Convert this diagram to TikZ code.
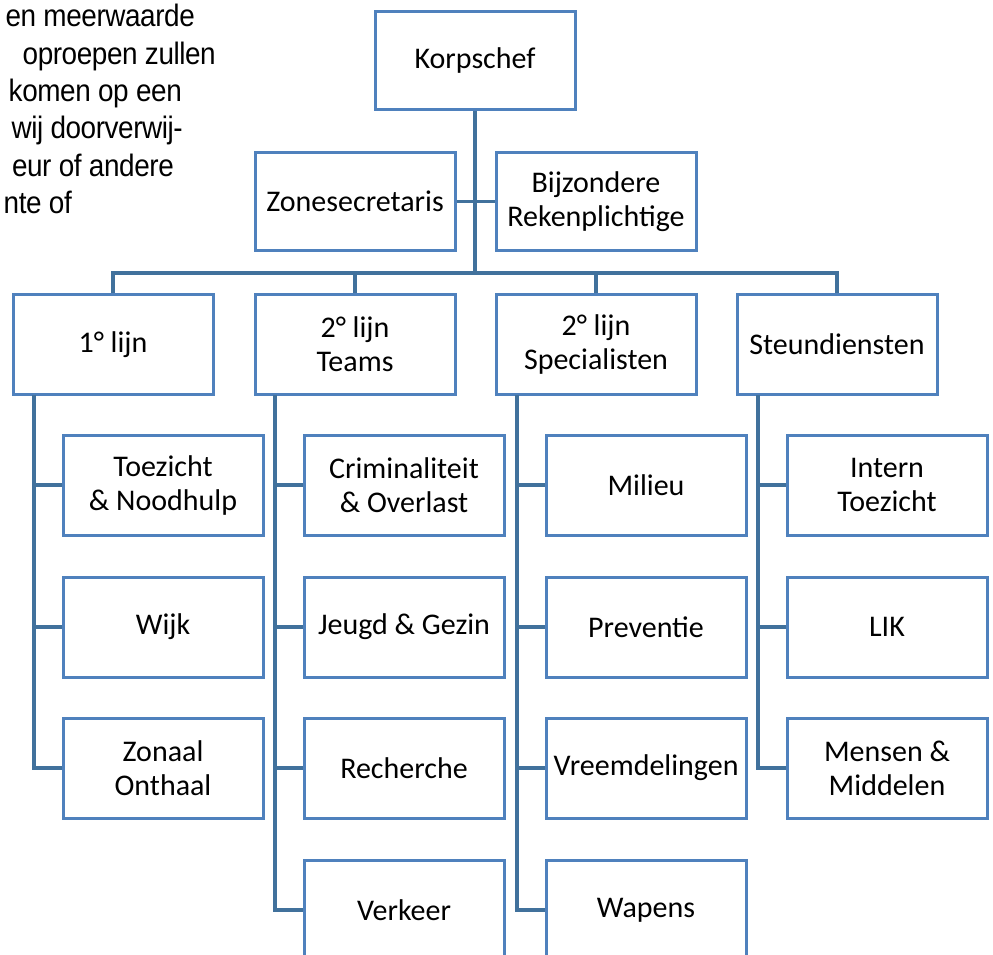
\documentclass[tikz,border=0pt]{standalone}
\usepackage{graphicx}
\usepackage{fontspec}
\setmainfont{Carlito}
\newfontfamily\parafont[LetterSpace=-1.5]{Liberation Sans}
\definecolor{boxblue}{HTML}{4F81BD}
\definecolor{linkblue}{HTML}{41719C}
\newcommand{\paratext}[1]{\scalebox{0.9}[1]{\parafont\fontsize{31}{36}\selectfont #1}}
\begin{document}
\begin{tikzpicture}[x=1pt,y=-1pt,
  box/.style={draw=boxblue,line width=3pt,fill=white,minimum width=200pt,minimum height=100pt,inner sep=0pt,align=center,font=\fontsize{30}{34}\selectfont},
  topbox/.style={box,minimum height=98pt},
  link/.style={draw=linkblue,line width=3.5pt},
  para/.style={anchor=base east,inner sep=0pt}]
\useasboundingbox (0,0) rectangle (993,955);
\clip (0,0) rectangle (993,955);
% paragraph fragment
\node[para] (p1) at (195,27) {\paratext{en meerwaarde}};
\node[para] (p2) at (216,65) {\paratext{oproepen zullen}};
\node[para] (p3) at (182,102) {\paratext{komen op een}};
\node[para] (p4) at (183,139) {\paratext{wij doorverwij-}};
\node[para] (p5) at (174,176) {\paratext{eur of andere}};
\node[para] (p6) at (72,213) {\paratext{nte of}};
% top
\node[topbox] (korps) at (475,61) {Korpschef};
\node[topbox] (zone) at (355,201.5) {Zonesecretaris};
\node[topbox] (bijz) at (596,201.5) {Bijzondere\\Rekenplichtige};
% level 2
\node[box] (l1) at (113,344.5) {1° lijn};
\node[box] (l2) at (355,344.5) {2° lijn\\Teams};
\node[box] (l3) at (596,344.5) {2° lijn\\Specialisten};
\node[box] (l4) at (837,344.5) {Steundiensten};
% children col 1
\node[box] (c11) at (163,485) {Toezicht\\\& Noodhulp};
\node[box] (c12) at (163,627) {Wijk};
\node[box] (c13) at (163,768) {Zonaal\\Onthaal};
% col 2
\node[box] (c21) at (404,485) {Criminaliteit\\\& Overlast};
\node[box] (c22) at (404,627) {Jeugd \& Gezin};
\node[box] (c23) at (404,768) {Recherche};
\node[box] (c24) at (404,910) {Verkeer};
% col 3
\node[box] (c31) at (646,485) {Milieu};
\node[box] (c32) at (646,627) {Preventie};
\node[box] (c33) at (646,768) {Vreemdelingen};
\node[box] (c34) at (646,910) {Wapens};
% col 4
\node[box] (c41) at (887,485) {Intern\\Toezicht};
\node[box] (c42) at (887,627) {LIK};
\node[box] (c43) at (887,768) {Mensen \&\\Middelen};
% connectors top
\coordinate (trunk) at (475,273);
\draw[link] (korps.south) -- (trunk);
\draw[link] (zone.east) -- (bijz.west);
\draw[link] (l1.north) -- (l1.north |- trunk) -- (l4.north |- trunk) -- (l4.north);
\draw[link] (l2.north) -- (l2.north |- trunk);
\draw[link] (l3.north) -- (l3.north |- trunk);
% child connectors
\coordinate (v1) at (34,394.5);
\coordinate (v2) at (275,394.5);
\coordinate (v3) at (517,394.5);
\coordinate (v4) at (758,394.5);
\draw[link] (v1) |- (c13.west);
\draw[link] (v1 |- c11.west) -- (c11.west);
\draw[link] (v1 |- c12.west) -- (c12.west);
\draw[link] (v2) |- (c24.west);
\draw[link] (v2 |- c21.west) -- (c21.west);
\draw[link] (v2 |- c22.west) -- (c22.west);
\draw[link] (v2 |- c23.west) -- (c23.west);
\draw[link] (v3) |- (c34.west);
\draw[link] (v3 |- c31.west) -- (c31.west);
\draw[link] (v3 |- c32.west) -- (c32.west);
\draw[link] (v3 |- c33.west) -- (c33.west);
\draw[link] (v4) |- (c43.west);
\draw[link] (v4 |- c41.west) -- (c41.west);
\draw[link] (v4 |- c42.west) -- (c42.west);
\end{tikzpicture}
\end{document}
